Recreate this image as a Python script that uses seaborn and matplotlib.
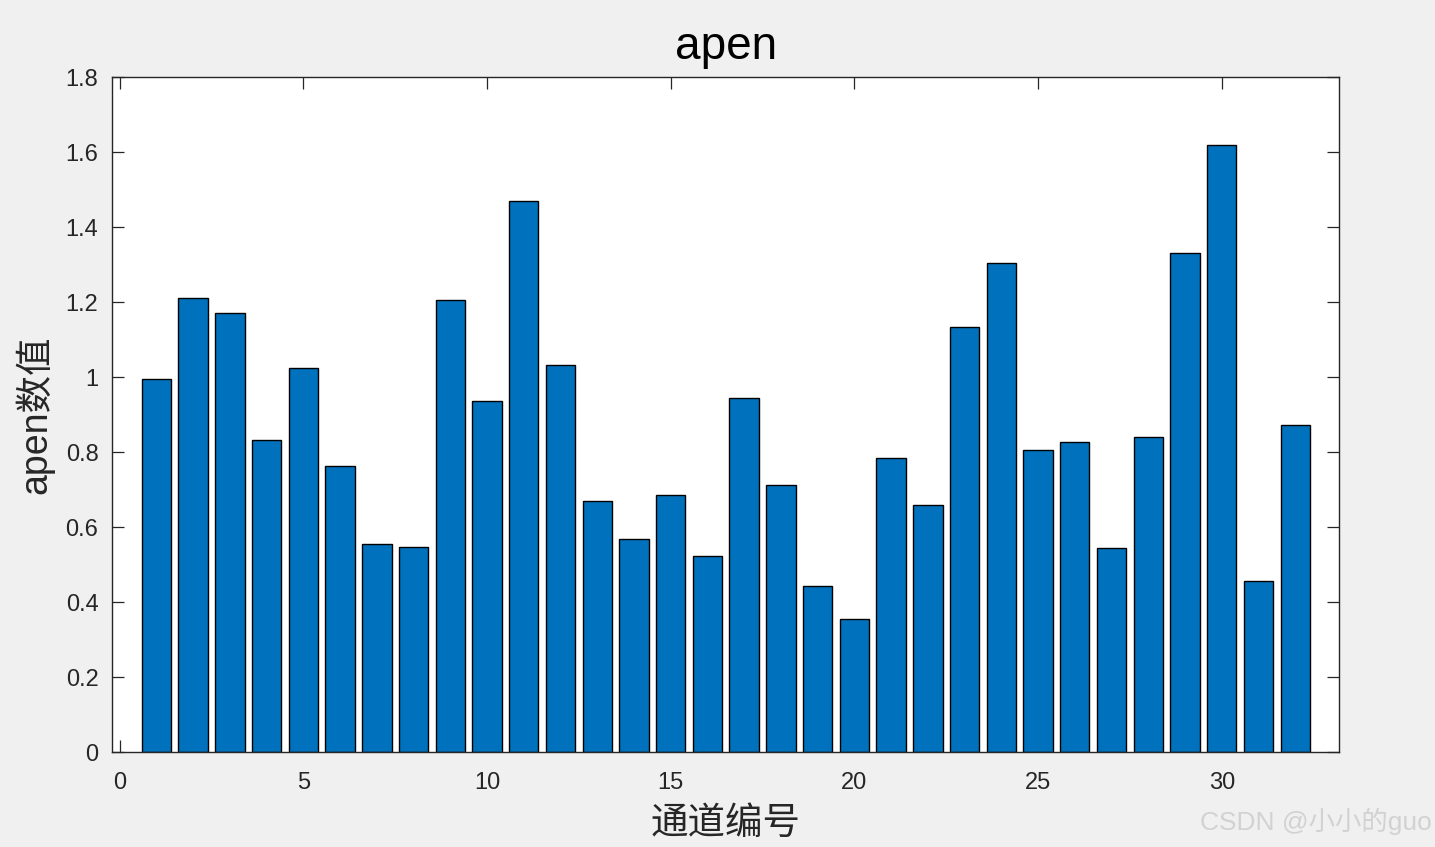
import matplotlib
matplotlib.use("Agg")
import matplotlib.pyplot as plt
import seaborn as sns
import numpy as np

channels = list(range(1, 33))
apen_values = [0.995, 1.211, 1.171, 0.832, 1.024, 0.763, 0.555, 0.547,
               1.205, 0.936, 1.469, 1.032, 0.669, 0.568, 0.685, 0.523,
               0.944, 0.712, 0.443, 0.355, 0.784, 0.659, 1.133, 1.304,
               0.805, 0.827, 0.544, 0.840, 1.331, 1.619, 0.456, 0.872]
xticks = [0, 5, 10, 15, 20, 25, 30]
yticks = [0, 0.2, 0.4, 0.6, 0.8, 1.0, 1.2, 1.4, 1.6, 1.8]
ytick_labels = ["0", "0.2", "0.4", "0.6", "0.8", "1", "1.2", "1.4", "1.6", "1.8"]

sns.set_theme(style="white")
plt.rcParams['font.family'] = ['Liberation Sans', 'Noto Sans CJK SC', 'DejaVu Sans']

fig = plt.figure(figsize=(14.35, 8.47), dpi=100, facecolor="#f0f0f0")
ax = fig.add_axes([0.0783, 0.1118, 0.9333 - 0.0783, 0.9087 - 0.1118])
ax.set_facecolor("white")

sns.barplot(x=channels, y=apen_values, native_scale=True, width=0.8,
            color="#0072BD", saturation=1, edgecolor="black", linewidth=1.0, ax=ax)

ax.set_xlim(-0.2, 33.2)
ax.set_ylim(0, 1.8)
ax.set_xticks(xticks)
ax.set_xticklabels([str(t) for t in xticks])
ax.set_yticks(yticks)
ax.set_yticklabels(ytick_labels)

ax.tick_params(axis="both", direction="in", length=8.6, width=0.9, color="#262626",
               labelsize=17, labelcolor="#262626", top=True, right=True,
               bottom=True, left=True)
ax.tick_params(axis="x", pad=14)
ax.tick_params(axis="y", pad=10)
for s in ax.spines.values():
    s.set_visible(True)
    s.set_color("#262626")
    s.set_linewidth(1.0)

ax.set_title("apen", fontsize=33, color="black", pad=13)
ax.set_xlabel("通道编号", fontsize=27, color="#262626",
              family=['Noto Sans CJK SC', 'DejaVu Sans'], labelpad=7)
ax.set_ylabel("apen数值", fontsize=27, color="#262626",
              family=['Liberation Sans', 'Noto Sans CJK SC'], labelpad=8)

fig.text(0.998, 0.03, "CSDN @小小的guo", ha="right", va="center", fontsize=19,
         color="#d2d2d2", family=['Liberation Sans', 'Noto Sans CJK SC'])

fig.savefig("out.png", dpi=100, facecolor=fig.get_facecolor())
